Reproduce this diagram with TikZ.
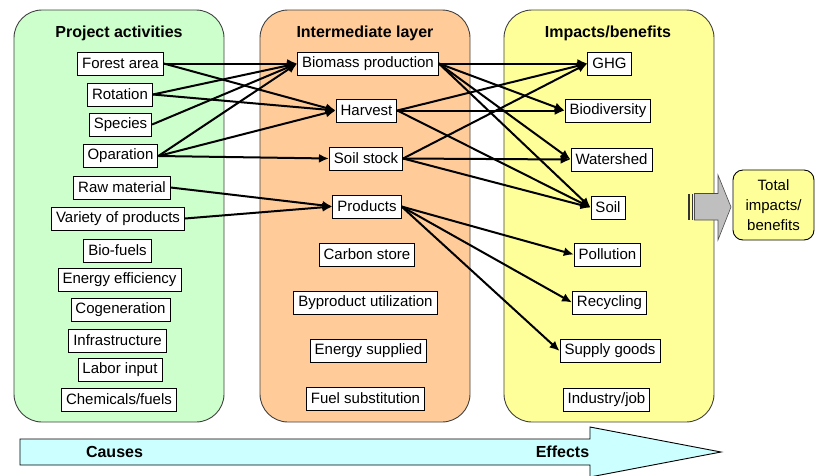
\documentclass[tikz,border=0pt]{standalone}
\usepackage{fontspec}
\setmainfont{Liberation Sans}
\usetikzlibrary{arrows.meta}
\definecolor{pgreen}{HTML}{CCFFCC}
\definecolor{porange}{HTML}{FFCC99}
\definecolor{pyellow}{HTML}{FFFF99}
\definecolor{pcyan}{HTML}{CCFFFF}
\definecolor{pgray}{HTML}{BFBFBF}
\begin{document}
\begin{tikzpicture}[x=1pt,y=-1pt,
  panel/.style={draw=black!75, line width=0.9pt, rounded corners=28pt},
  bx/.style={draw, fill=white, line width=0.9pt, font=\fontsize{15}{18}\selectfont, inner xsep=4.5pt, inner ysep=0pt, minimum height=23pt},
  ttl/.style={font=\fontsize{16}{19}\selectfont\bfseries},
  arr/.style={line width=2pt, -{Latex[length=10pt,width=9pt]}}]
\useasboundingbox (0,0) rectangle (815,475);
% panels
\draw[panel, fill=pgreen] (14,10) rectangle (224,422);
\draw[panel, fill=porange] (260,10) rectangle (470,422);
\draw[panel, fill=pyellow] (504,10) rectangle (714,422);
\node[ttl] (t1) at (119,33) {Project activities};
\node[ttl] (t2) at (365,33) {Intermediate layer};
\node[ttl] (t3) at (608,33) {Impacts/benefits};
% left column
\node[bx] (fa) at (120.5,63.5) {Forest area};
\node[bx] (ro) at (120,94.5) {Rotation};
\node[bx] (sp) at (120.5,124.5) {Species};
\node[bx] (op) at (120.5,156) {Oparation};
\node[bx] (rm) at (122,187.5) {Raw material};
\node[bx] (vp) at (118,218.5) {Variety of products};
\node[bx] (bf) at (117.5,250.5) {Bio-fuels};
\node[bx] (ee) at (119.5,279.5) {Energy efficiency};
\node[bx] (cg) at (120.5,309.5) {Cogeneration};
\node[bx] (in) at (117.5,340.5) {Infrastructure};
\node[bx] (li) at (120,370) {Labor input};
\node[bx] (cf) at (119,399.5) {Chemicals/fuels};
% middle column
\node[bx] (bp) at (368,63.5) {Biomass production};
\node[bx] (ha) at (366.5,110.5) {Harvest};
\node[bx] (ss) at (366,158.5) {Soil stock};
\node[bx] (pr) at (367,206.5) {Products};
\node[bx] (cs) at (367,254.5) {Carbon store};
\node[bx] (bu) at (365.5,303) {Byproduct utilization};
\node[bx] (es) at (368.5,350.5) {Energy supplied};
\node[bx] (fs) at (365.5,398.5) {Fuel substitution};
% right column
\node[bx] (gh) at (609.5,63.5) {GHG};
\node[bx] (bd) at (608,110.5) {Biodiversity};
\node[bx] (ws) at (611.5,159.5) {Watershed};
\node[bx] (so) at (608,207.5) {Soil};
\node[bx] (po) at (607.5,254.5) {Pollution};
\node[bx] (rc) at (609.5,302.5) {Recycling};
\node[bx] (sg) at (610,351) {Supply goods};
\node[bx] (ij) at (606.5,399.5) {Industry/job};
% arrows left -> middle
\draw[arr] (fa.east) -- (bp.west);
\draw[arr] (fa.east) -- (ha.west);
\draw[arr] (ro.east) -- (bp.west);
\draw[arr] (ro.east) -- (ha.west);
\draw[arr] (sp.east) -- (bp.west);
\draw[arr] (op.east) -- (bp.west);
\draw[arr] (op.east) -- (ha.west);
\draw[arr] (op.east) -- (ss.west);
\draw[arr] (rm.east) -- (pr.west);
\draw[arr] (vp.east) -- (pr.west);
% arrows middle -> right
\draw[arr] (bp.east) -- (gh.west);
\draw[arr] (bp.east) -- (bd.west);
\draw[arr] (bp.east) -- (ws.west);
\draw[arr] (bp.east) -- (so.west);
\draw[arr] (ha.east) -- (gh.west);
\draw[arr] (ha.east) -- (bd.west);
\draw[arr] (ha.east) -- (so.west);
\draw[arr] (ss.east) -- (gh.west);
\draw[arr] (ss.east) -- (ws.west);
\draw[arr] (ss.east) -- (so.west);
\draw[arr] (pr.east) -- (po.west);
\draw[arr] (pr.east) -- (rc.west);
\draw[arr] (pr.east) -- (sg.west);
% total box and block arrow
\node[draw, fill=pyellow, line width=0.9pt, rounded corners=10pt, minimum width=81pt, minimum height=70pt, align=center, inner sep=0pt, font=\fontsize{15}{20}\selectfont] (tot) at (773.5,205) {Total\\impacts/\\benefits};
\fill[black!80] (688,193.5) rectangle (690,220);
\fill[black!80] (691.5,193.5) rectangle (693,220);
\draw[fill=pgray, draw=black!70, line width=0.6pt] (694.5,193.5) -- (718,193.5) -- (718,175) -- (731,207) -- (718,240) -- (718,220) -- (694.5,220) -- cycle;
% bottom arrow
\draw[fill=pcyan, line width=0.9pt] (20,439) -- (590,439) -- (590,427) -- (721,452) -- (590,477) -- (590,465) -- (20,465) -- cycle;
\node[ttl] (causes) at (114.5,452) {Causes};
\node[ttl] (effects) at (562.5,452) {Effects};
\end{tikzpicture}
\end{document}
